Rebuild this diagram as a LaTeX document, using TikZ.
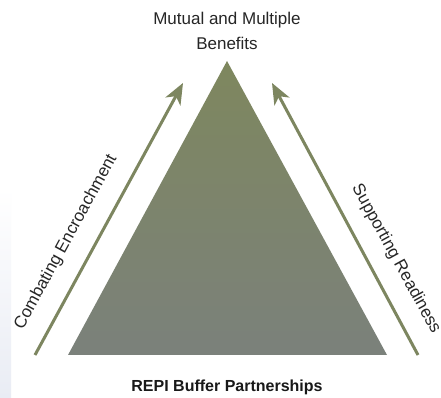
\documentclass[tikz,border=0pt]{standalone}
\usepackage{fontspec}
\setmainfont{Liberation Sans}
\usetikzlibrary{arrows.meta}
\definecolor{olive}{HTML}{7D8660}
\definecolor{olivetop}{HTML}{7E875E}
\definecolor{olivebot}{HTML}{7B817B}
\definecolor{stripc}{HTML}{E9ECF4}
\tikzset{
  lbl/.style={font=\fontsize{17}{20}\selectfont, text=black!85, inner sep=0pt},
  bold lbl/.style={font=\fontsize{16}{19}\selectfont\bfseries, text=black!90, inner sep=0pt},
  upar/.style={draw=olive, line width=3pt, -{Stealth[length=21pt,width=17pt,inset=6pt]}}
}
\begin{document}
\begin{tikzpicture}[x=1pt,y=1pt]
\useasboundingbox (0,0) rectangle (441,398);
\fill[white] (0,0) rectangle (441,398);
% faint strip at left edge
\shade[top color=white, bottom color=stripc] (0,0) rectangle (11,210);
% pyramid
\coordinate (apex) at (227,337);
\coordinate (bl) at (68,43);
\coordinate (br) at (387,43);
\shade[top color=olivetop, bottom color=olivebot] (apex) -- (br) -- (bl) -- cycle;
% arrows
\coordinate (la) at (35,43);
\coordinate (lb) at (183,315);
\coordinate (ra) at (418,43);
\coordinate (rb) at (272,315);
\draw[upar] (la) -- (lb);
\draw[upar] (ra) -- (rb);
% labels
\node[lbl] (top1) at (227,378) {Mutual and Multiple};
\node[lbl] (top2) at (227,355) {Benefits};
\node[bold lbl] (bottom) at (227,11) {REPI Buffer Partnerships};
\node[lbl, rotate=61.4] (left) at (66,156) {Combating Encroachment};
\node[lbl, rotate=-61.2] (right) at (396,139) {Supporting Readiness};
\end{tikzpicture}
\end{document}
